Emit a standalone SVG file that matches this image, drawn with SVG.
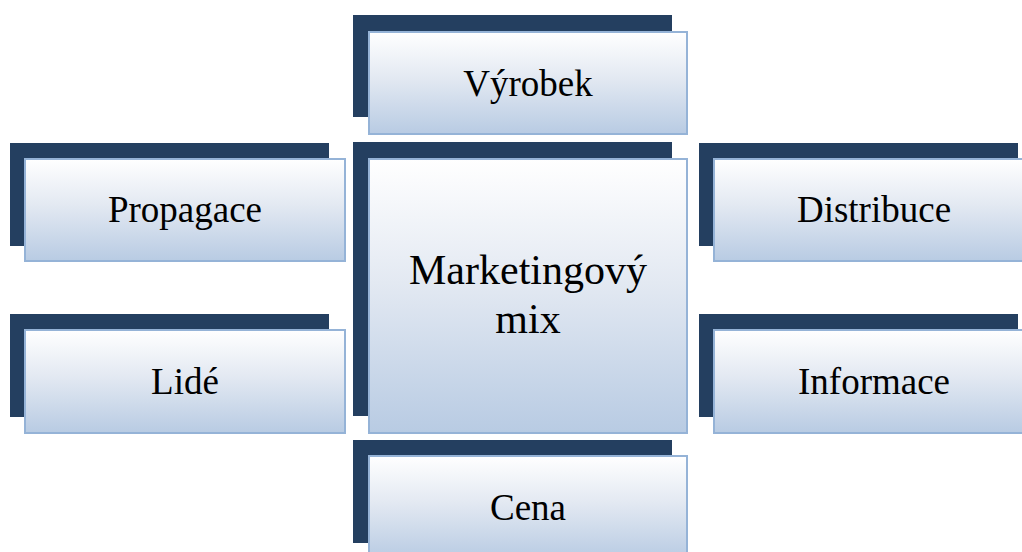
<svg xmlns="http://www.w3.org/2000/svg" width="1022" height="552" viewBox="0 0 1022 552">
  <defs>
    <linearGradient id="boxFill" x1="0" y1="0" x2="0" y2="1">
      <stop offset="0" stop-color="#ffffff"/>
      <stop offset="0.45" stop-color="#e3e9f2"/>
      <stop offset="1" stop-color="#b8cbe3"/>
    </linearGradient>
    <style>
      .shadow { fill: #243f60; }
      .box { fill: url(#boxFill); stroke: #95b3d7; stroke-width: 2; }
      .label { font-family: "Liberation Serif", "Times New Roman", serif; font-size: 37px; fill: #000; text-anchor: middle; }
      .big { font-size: 42px; }
    </style>
  </defs>

  <rect width="1022" height="552" fill="#ffffff"/>

  <g id="connectors"></g>

  <g id="node-vyrobek">
    <rect class="shadow" x="353" y="15" width="319" height="102"/>
    <rect class="box" x="369" y="32" width="318" height="102"/>
    <text class="label" x="528" y="96">Výrobek</text>
  </g>

  <g id="node-propagace">
    <rect class="shadow" x="10" y="143" width="319" height="103"/>
    <rect class="box" x="25" y="159" width="320" height="102"/>
    <text class="label" x="185" y="222">Propagace</text>
  </g>

  <g id="node-distribuce">
    <rect class="shadow" x="699" y="143" width="319" height="103"/>
    <rect class="box" x="714" y="159" width="320" height="102"/>
    <text class="label" x="874" y="222">Distribuce</text>
  </g>

  <g id="node-mix">
    <rect class="shadow" x="353" y="142" width="319" height="274"/>
    <rect class="box" x="369" y="159" width="318" height="274"/>
    <text class="label big" x="528" y="284">Marketingový</text>
    <text class="label big" x="528" y="333">mix</text>
  </g>

  <g id="node-lide">
    <rect class="shadow" x="10" y="314" width="319" height="103"/>
    <rect class="box" x="25" y="330" width="320" height="103"/>
    <text class="label" x="185" y="394">Lidé</text>
  </g>

  <g id="node-informace">
    <rect class="shadow" x="699" y="314" width="319" height="103"/>
    <rect class="box" x="714" y="330" width="320" height="103"/>
    <text class="label" x="874" y="394">Informace</text>
  </g>

  <g id="node-cena">
    <rect class="shadow" x="353" y="440" width="319" height="103"/>
    <rect class="box" x="369" y="456" width="318" height="103"/>
    <text class="label" x="528" y="520">Cena</text>
  </g>
</svg>
